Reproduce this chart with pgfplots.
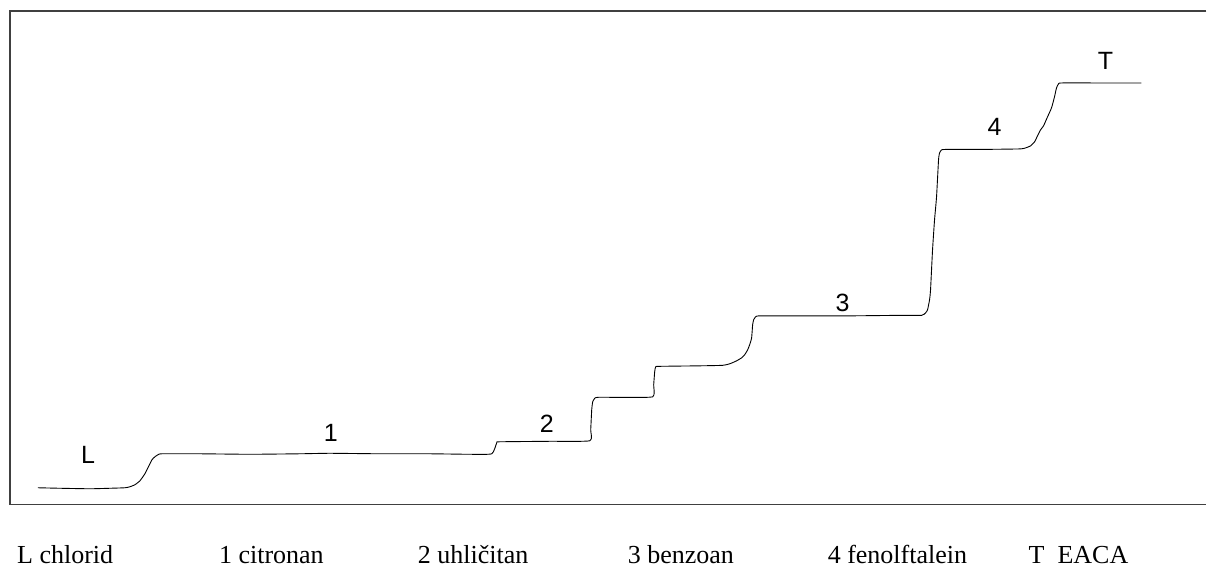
\documentclass[border=0pt]{standalone}
\usepackage{pgfplots}
\pgfplotsset{compat=1.18}
\usepackage{fontspec}
\setmainfont{Liberation Serif}
\newfontfamily\sansf{Liberation Sans}
\begin{document}
\begin{tikzpicture}
\begin{axis}[
  scale only axis, width=1197pt, height=494pt,
  xmin=10, xmax=1207, ymin=11, ymax=505, y dir=reverse,
  hide axis, clip=false,
]
\path (axis cs:0,0) rectangle (axis cs:1207,571);
\draw[black!75, line width=1.2pt] (axis cs:1207,11) -- (axis cs:10,11) -- (axis cs:10,505) -- (axis cs:1207,505);
\addplot[black, line width=0.9pt, smooth, tension=0.3] coordinates {
(38,488) (60,488.5) (90,489) (110,488.5) (125,488) (130,487) (135,485) (140,481)
(145,474) (149,466) (152,460) (155,457) (158,455) (162,454) (200,454) (250,454.5)
(300,454) (330,453.5) (380,454) (430,454) (470,454.5) (492,454) (497,443) (500,442)
(550,441.5) (590,441) (591,430) (592,410) (593,402) (595,398.5) (598,397.5) (620,397.5)
(653,397) (654,385) (655,372) (656,367) (660,366.5) (700,366) (723,365.5) (730,364)
(737,361) (742,358) (745,355) (748,350) (750,345) (752,338) (753,325) (754,320)
(756,317) (760,316) (800,316) (850,316) (900,315.5) (922,315.5) (926,313) (928,310)
(930,300) (931,290) (933,250) (935,220) (937,197) (939,160) (940,153) (942,150)
(946,149.5) (980,149.5) (1020,149) (1026,148) (1031,146) (1035,142) (1038,136) (1041,130)
(1044,126) (1048,117) (1052,108) (1055,97) (1057,88) (1059,84) (1062,83) (1100,83) (1142,83)
};
\begin{scope}[every node/.style={font=\sansf\fontsize{25}{30}\selectfont, inner sep=0pt}]
\node at (axis cs:88,455) {L};
\node at (axis cs:331,433) {1};
\node at (axis cs:547,424) {2};
\node at (axis cs:843,303) {3};
\node at (axis cs:995,127) {4};
\node at (axis cs:1106,61) {T};
\end{scope}
\begin{scope}[every node/.style={font=\fontsize{26}{30}\selectfont, inner sep=0pt, text depth=0pt, anchor=base west}]
\node at (axis cs:17,564) {L chlorid};
\node at (axis cs:219,564) {1 citronan};
\node at (axis cs:418,564) {2 uhličitan};
\node at (axis cs:628,564) {3 benzoan};
\node at (axis cs:828,564) {4 fenolftalein};
\node at (axis cs:1029,564) {T\ \ EACA};
\end{scope}
\end{axis}
\end{tikzpicture}
\end{document}
